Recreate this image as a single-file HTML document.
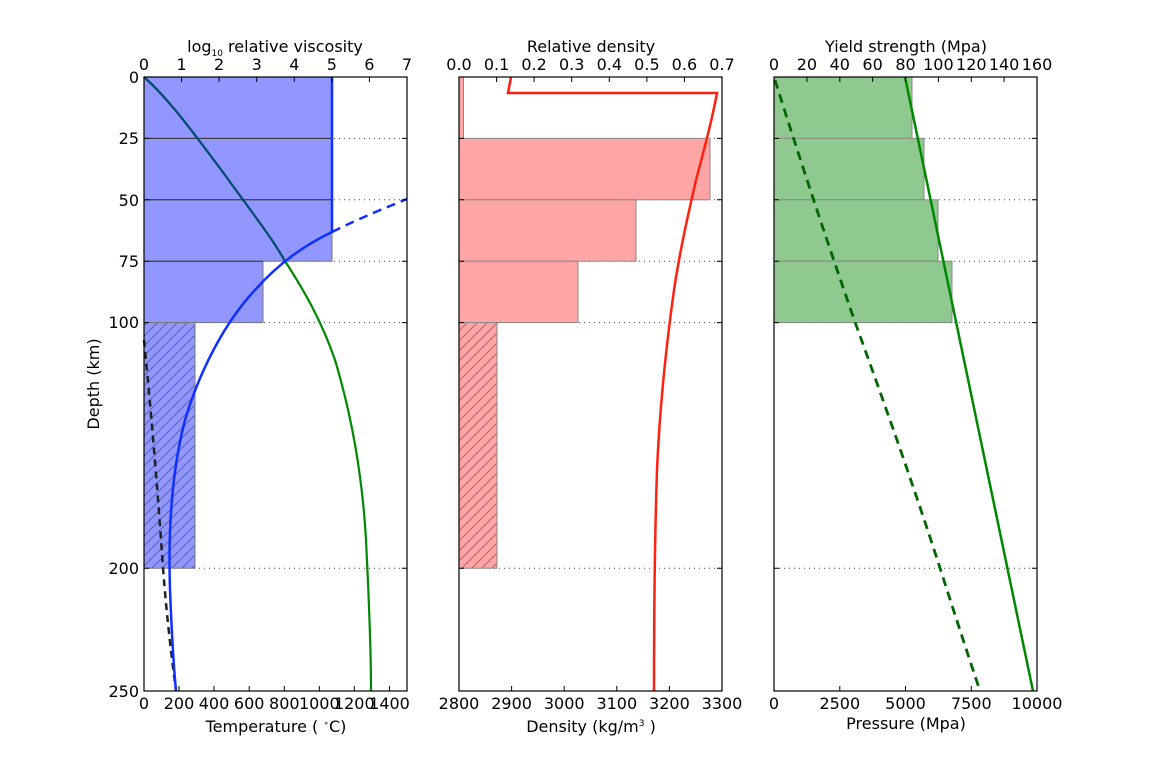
<!DOCTYPE html>
<html><head><meta charset="utf-8"><style>
html,body{margin:0;padding:0;background:#fff}
svg{display:block;font-family:"DejaVu Sans","Liberation Sans",sans-serif}
</style></head><body>
<svg width="1152" height="768" viewBox="0 0 1152 768" xmlns="http://www.w3.org/2000/svg">
<defs>
<pattern id="hb" patternUnits="userSpaceOnUse" width="10" height="10">
<rect width="10" height="10" fill="#9197ff"/>
<path d="M-1,11 L11,-1 M-1,1 L1,-1 M9,11 L11,9" stroke="#555a99" stroke-width="0.8"/>
</pattern>
<pattern id="hr" patternUnits="userSpaceOnUse" width="10" height="10">
<rect width="10" height="10" fill="#ffa5a5"/>
<path d="M-1,11 L11,-1 M-1,1 L1,-1 M9,11 L11,9" stroke="#a06060" stroke-width="0.8"/>
</pattern>
</defs>
<g font-size="16" fill="#000">
<g>
<g stroke="#444" stroke-dasharray="1,4" stroke-width="1">
<line x1="144" y1="138.4" x2="407" y2="138.4"/><line x1="144" y1="199.8" x2="407" y2="199.8"/>
<line x1="144" y1="261.2" x2="407" y2="261.2"/><line x1="144" y1="322.6" x2="407" y2="322.6"/>
<line x1="144" y1="568.2" x2="407" y2="568.2"/>
</g>
<g stroke="#777" stroke-width="1">
<rect x="144" y="77" width="188" height="61.4" fill="#9197ff"/>
<rect x="144" y="138.4" width="188" height="61.4" fill="#9197ff"/>
<rect x="144" y="199.8" width="188" height="61.4" fill="#9197ff"/>
<rect x="144" y="261.2" width="119" height="61.4" fill="#9197ff"/>
<rect x="144" y="322.6" width="51" height="245.6" fill="url(#hb)"/>
</g>
<g stroke="#333" stroke-width="1"><line x1="144" y1="138.4" x2="332" y2="138.4"/><line x1="144" y1="199.8" x2="332" y2="199.8"/><line x1="144" y1="261.2" x2="263" y2="261.2"/></g>
<path d="M144,77 C170,100 195,135 225,175 C250,210 270,235 285,261 C305,292 322,322 335,360 C350,410 362,470 366,540 C369,600 371,650 371,691" fill="none" stroke="#008800" stroke-width="2.2"/>
<path d="M144,77 C170,100 195,135 225,175 C250,210 270,235 285,261" fill="none" stroke="#0a4a7a" stroke-width="2.2"/>
<path d="M144,340 C150,400 157,480 163,568 C167,620 172,660 176,691" fill="none" stroke="#222" stroke-width="2.5" stroke-dasharray="7,5"/>
<path d="M332,77 L332,232" fill="none" stroke="#1030ff" stroke-width="2.5"/>
<path d="M332,232 C360,218 385,208 407,199" fill="none" stroke="#1030ff" stroke-width="2.5" stroke-dasharray="9,6"/>
<path d="M332,232 C305,245 280,262 255,290 C225,322 200,370 185,420 C172,470 168,530 170,590 C172,640 174,670 176,691" fill="none" stroke="#1030ff" stroke-width="2.5"/>
<rect x="144" y="77" width="263" height="614" fill="none" stroke="#000" stroke-width="1.2"/>
<g stroke="#000" stroke-width="1">
<path d="M181.6,77v5M219.1,77v5M256.7,77v5M294.3,77v5M331.9,77v5M369.4,77v5"/>
<path d="M179,691v-5M214,691v-5M249.2,691v-5M284.3,691v-5M319.3,691v-5M354.3,691v-5M389.5,691v-5"/>
<path d="M144,138.4h5M144,199.8h5M144,261.2h5M144,322.6h5M144,568.2h5M407,138.4h-5M407,199.8h-5M407,261.2h-5M407,322.6h-5M407,568.2h-5"/>
</g>
<g text-anchor="middle">
<text x="144" y="70">0</text><text x="181.6" y="70">1</text><text x="219.1" y="70">2</text><text x="256.7" y="70">3</text><text x="294.3" y="70">4</text><text x="331.9" y="70">5</text><text x="369.4" y="70">6</text><text x="407" y="70">7</text>
<text x="144" y="709">0</text><text x="179" y="709">200</text><text x="214" y="709">400</text><text x="249.2" y="709">600</text><text x="284.3" y="709">800</text><text x="319.3" y="709">1000</text><text x="354.3" y="709">1200</text><text x="389.5" y="709">1400</text>
<text x="275" y="52">log<tspan font-size="9" dy="4">10</tspan><tspan dy="-4"> relative viscosity</tspan></text>
<text x="276" y="732">Temperature ( <tspan font-size="9" dy="-6">∘</tspan><tspan dy="6">C)</tspan></text>
</g>
<g text-anchor="end">
<text x="139" y="83">0</text><text x="139" y="144">25</text><text x="139" y="206">50</text><text x="139" y="267">75</text><text x="139" y="328">100</text><text x="139" y="574">200</text><text x="139" y="697">250</text>
</g>
<text transform="translate(99,384) rotate(-90)" text-anchor="middle">Depth (km)</text>
</g>

<g>
<g stroke="#444" stroke-dasharray="1,4" stroke-width="1">
<line x1="459" y1="138.4" x2="722" y2="138.4"/><line x1="459" y1="199.8" x2="722" y2="199.8"/>
<line x1="459" y1="261.2" x2="722" y2="261.2"/><line x1="459" y1="322.6" x2="722" y2="322.6"/>
<line x1="459" y1="568.2" x2="722" y2="568.2"/>
</g>
<g stroke="#888" stroke-width="1">
<rect x="459" y="77" width="4.5" height="61.4" fill="#ffa5a5"/>
<rect x="459" y="138.4" width="251" height="61.4" fill="#ffa5a5"/>
<rect x="459" y="199.8" width="177" height="61.4" fill="#ffa5a5"/>
<rect x="459" y="261.2" width="119" height="61.4" fill="#ffa5a5"/>
<rect x="459" y="322.6" width="38" height="245.6" fill="url(#hr)"/>
</g>
<path d="M511,77 L508,93 L717,93 C712,120 704,150 696,180 C688,215 680,250 674,290 C667,340 660,400 657,470 C655,530 654,620 654,691" fill="none" stroke="#ff2010" stroke-width="2.5"/>
<rect x="459" y="77" width="263" height="614" fill="none" stroke="#000" stroke-width="1.2"/>
<g stroke="#000" stroke-width="1">
<path d="M496.6,77v5M534.1,77v5M571.7,77v5M609.3,77v5M646.9,77v5M684.4,77v5"/>
<path d="M511.6,691v-5M564.2,691v-5M616.8,691v-5M669.4,691v-5"/>
<path d="M459,138.4h5M459,199.8h5M459,261.2h5M459,322.6h5M459,568.2h5M722,138.4h-5M722,199.8h-5M722,261.2h-5M722,322.6h-5M722,568.2h-5"/>
</g>
<g text-anchor="middle">
<text x="459" y="70">0.0</text><text x="496.6" y="70">0.1</text><text x="534.1" y="70">0.2</text><text x="571.7" y="70">0.3</text><text x="609.3" y="70">0.4</text><text x="646.9" y="70">0.5</text><text x="684.4" y="70">0.6</text><text x="722" y="70">0.7</text>
<text x="459" y="709">2800</text><text x="511.6" y="709">2900</text><text x="564.2" y="709">3000</text><text x="616.8" y="709">3100</text><text x="669.4" y="709">3200</text><text x="722" y="709">3300</text>
<text x="591" y="52">Relative density</text>
<text x="591" y="732">Density (kg/m<tspan font-size="9" dy="-6">3</tspan><tspan dy="6"> )</tspan></text>
</g>
</g>

<g>
<g stroke="#444" stroke-dasharray="1,4" stroke-width="1">
<line x1="774" y1="138.4" x2="1037" y2="138.4"/><line x1="774" y1="199.8" x2="1037" y2="199.8"/>
<line x1="774" y1="261.2" x2="1037" y2="261.2"/><line x1="774" y1="322.6" x2="1037" y2="322.6"/>
<line x1="774" y1="568.2" x2="1037" y2="568.2"/>
</g>
<g stroke="#888" stroke-width="1" fill="#90c990">
<rect x="774" y="77" width="138" height="61.4"/>
<rect x="774" y="138.4" width="150" height="61.4"/>
<rect x="774" y="199.8" width="164" height="61.4"/>
<rect x="774" y="261.2" width="178" height="61.4"/>
</g>
<path d="M905,77 L1033,691" fill="none" stroke="#008800" stroke-width="2.5"/>
<path d="M775,80 C800,160 830,250 855,322 C885,405 915,490 940,568 C955,615 968,655 980,691" fill="none" stroke="#006600" stroke-width="2.8" stroke-dasharray="9,6"/>
<rect x="774" y="77" width="263" height="614" fill="none" stroke="#000" stroke-width="1.2"/>
<g stroke="#000" stroke-width="1">
<path d="M806.9,77v5M839.8,77v5M872.6,77v5M905.5,77v5M938.4,77v5M971.3,77v5M1004.1,77v5"/>
<path d="M839.8,691v-5M905.5,691v-5M971.3,691v-5"/>
<path d="M774,138.4h5M774,199.8h5M774,261.2h5M774,322.6h5M774,568.2h5M1037,138.4h-5M1037,199.8h-5M1037,261.2h-5M1037,322.6h-5M1037,568.2h-5"/>
</g>
<g text-anchor="middle">
<text x="774" y="70">0</text><text x="806.9" y="70">20</text><text x="839.8" y="70">40</text><text x="872.6" y="70">60</text><text x="905.5" y="70">80</text><text x="938.4" y="70">100</text><text x="971.3" y="70">120</text><text x="1004.1" y="70">140</text><text x="1037" y="70">160</text>
<text x="774" y="709">0</text><text x="839.8" y="709">2500</text><text x="905.5" y="709">5000</text><text x="971.3" y="709">7500</text><text x="1037" y="709">10000</text>
<text x="906" y="52">Yield strength (Mpa)</text>
<text x="906" y="729">Pressure (Mpa)</text>
</g>
</g>
</g>
</svg>
</body></html>
